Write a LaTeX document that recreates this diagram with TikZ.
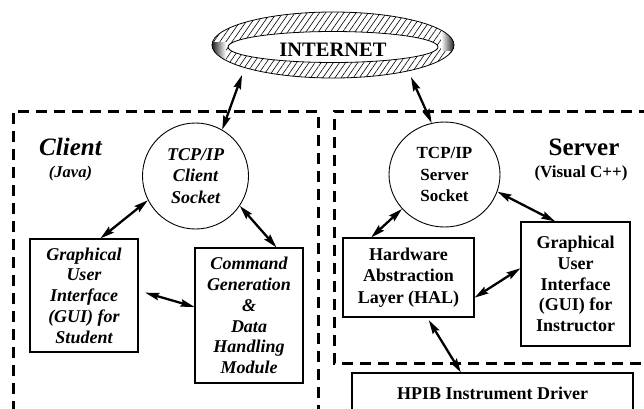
\documentclass[tikz,border=0pt]{standalone}
\usepackage{fontspec}
\setmainfont{Liberation Serif}
\usetikzlibrary{arrows.meta,patterns.meta,shapes.geometric,calc}

\begin{document}
\begin{tikzpicture}[x=1pt,y=-1pt,
  frame/.style={draw,line width=1.1pt,rectangle,inner sep=0pt,align=center},
  sock/.style={draw,line width=0.9pt,ellipse,inner sep=0pt,align=center},
  dbl/.style={line width=2.3pt,
    {Stealth[length=14pt,width=7.5pt,inset=2pt]}-{Stealth[length=14pt,width=7.5pt,inset=2pt]}},
  zone/.style={line width=3pt,dash pattern=on 11pt off 7pt},
  body/.style={font=\fontsize{18}{20.8}\selectfont\bfseries},
  bodyit/.style={font=\fontsize{18}{20.8}\selectfont\bfseries\itshape},
]
\useasboundingbox (0,0) rectangle (644,408);

% --- the Internet ring ---
\path[pattern={Lines[angle=55,distance=5pt,line width=0.6pt]},even odd rule]
  (333,45) ellipse [x radius=121,y radius=33]
  (333,47) ellipse [x radius=105,y radius=15.5];
\begin{scope}[even odd rule]
  \clip (333,45) ellipse [x radius=121,y radius=33]
    (333,47) ellipse [x radius=105,y radius=15.5];
  \shade[left color=black,right color=white] (210,42) rectangle (226,68);
  \shade[right color=black,left color=white] (441,26) rectangle (456,50);
\end{scope}
\draw[line width=0.8pt] (333,45) ellipse [x radius=121,y radius=33];
\draw[line width=0.8pt] (333,47) ellipse [x radius=105,y radius=15.5];
\node[font=\fontsize{20.5}{22}\selectfont\bfseries] (net) at (333,50) {INTERNET};
\coordinate (netA) at (242,75);
\coordinate (netB) at (411,77);

% --- dashed zones ---
\draw[zone] (13,412) -- (13,111) -- (318,111) -- (318,412);
\draw[zone] (650,111) -- (334,111) -- (334,363) -- (650,363);

\node[font=\fontsize{25}{27}\selectfont\bfseries\itshape,anchor=base] (clientlbl) at (70.5,155) {Client};
\node[font=\fontsize{16.5}{18}\selectfont\bfseries\itshape,anchor=base] (javalbl) at (70.5,177) {(Java)};
\node[font=\fontsize{25}{27}\selectfont\bfseries,anchor=base] (serverlbl) at (584,155) {Server};
\node[font=\fontsize{17}{19}\selectfont\bfseries,anchor=base] (vclbl) at (581,177) {(Visual C++)};

% --- sockets ---
\node[sock,font=\fontsize{18}{21.5}\selectfont\bfseries\itshape,
  minimum width=106,minimum height=106] (cs) at (195.5,176)
  {TCP/IP\\Client\\Socket};
\node[sock,font=\fontsize{17}{21.5}\selectfont\bfseries,
  minimum width=111,minimum height=105] (ss) at (444.5,174.5)
  {TCP/IP\\Server\\Socket};

% --- modules ---
\node[frame,bodyit,minimum width=108,minimum height=113] (gs) at (84,295.5)
  {Graphical\\User\\Interface\\(GUI) for\\Student};
\node[frame,bodyit,minimum width=108,minimum height=135] (cm) at (249,315.5)
  {Command\\Generation\\\&\\Data\\Handling\\Module};
\node[frame,font=\fontsize{18}{21.5}\selectfont\bfseries,
  minimum width=131,minimum height=79] (hal) at (408.5,277.5)
  {Hardware\\Abstraction\\Layer (HAL)};
\node[frame,body,minimum width=109,minimum height=124] (gi) at (575.5,284)
  {Graphical\\User\\Interface\\(GUI) for\\Instructor};
\node[frame,body,minimum width=281,minimum height=40] (hpib) at (492.5,393)
  {HPIB Instrument Driver};

% --- links ---
\draw[dbl] (cs.60) -- (netA);
\draw[dbl] (ss.104) -- (netB);
\draw[dbl] (cs.207) -- (gs.74);
\draw[dbl] (cs.326) -- (cm.68);
\draw[dbl,shorten <=7pt] (gs.5) -- (cm.171);
\draw[dbl] (ss.219) -- (hal.133);
\draw[dbl] (ss.342) -- (gi.108);
\draw[dbl] (hal.-17) -- (gi.164);
\draw[dbl,shorten <=3pt] (hal.295) -- (hpib.147);
\end{tikzpicture}
\end{document}
